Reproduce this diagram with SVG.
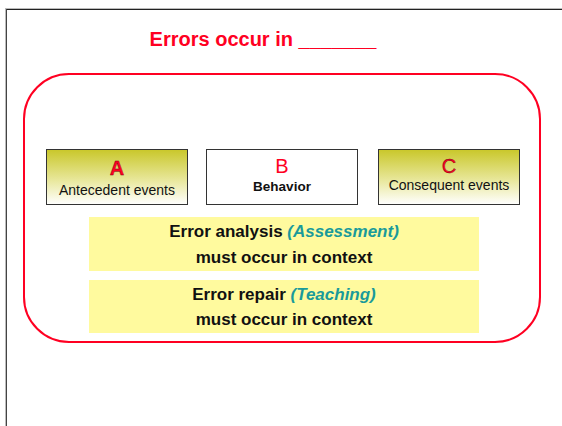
<svg xmlns="http://www.w3.org/2000/svg" width="562" height="426" viewBox="0 0 562 426">
<defs>
<linearGradient id="olive" x1="0" y1="0" x2="0" y2="1">
<stop offset="0" stop-color="#c9c72a"/>
<stop offset="0.55" stop-color="#e8e79a"/>
<stop offset="1" stop-color="#ffffff"/>
</linearGradient>
<style>
text{font-family:"Liberation Sans",Arial,sans-serif;text-anchor:middle}
.box{stroke:#333;stroke-width:1}
.bar{fill:#fffa9e}
.big{font-size:20px;fill:#ff0022}
.small{font-size:14px;fill:#111}
.line{font-size:17px;font-weight:bold;fill:#111}
.teal{fill:#1a9a9a;font-style:italic}
</style>
</defs>
<rect width="562" height="426" fill="#fff"/>
<g id="frame">
<line x1="5" y1="8.5" x2="562" y2="8.5" stroke="#bbb" stroke-width="1"/>
<line x1="5.5" y1="8" x2="5.5" y2="426" stroke="#bbb" stroke-width="1"/>
<line x1="6" y1="9.5" x2="562" y2="9.5" stroke="#222" stroke-width="1"/>
<line x1="6.5" y1="9" x2="6.5" y2="426" stroke="#444" stroke-width="1"/>
</g>
<g id="title">
<text x="263" y="46" style="font-size:20px;font-weight:bold;fill:#ff0022">Errors occur in _______</text>
</g>
<g id="container">
<rect x="24" y="74" width="516" height="268" rx="45" ry="45" fill="none" stroke="#ff0022" stroke-width="2"/>
</g>
<g id="nodeA">
<rect class="box" x="46.5" y="149.5" width="141" height="55" fill="url(#olive)"/>
<text class="big" x="117" y="175" style="font-weight:bold;stroke:#7a0010;stroke-width:0.4">A</text>
<text class="small" x="117" y="195">Antecedent events</text>
</g>
<g id="nodeB">
<rect class="box" x="206.5" y="149.5" width="151" height="55" fill="#fff"/>
<text class="big" x="282" y="173">B</text>
<text class="small" x="282" y="191" style="font-weight:bold;font-size:13.5px">Behavior</text>
</g>
<g id="nodeC">
<rect class="box" x="378.5" y="149.5" width="141" height="55" fill="url(#olive)"/>
<text class="big" x="449" y="173" style="stroke:#7a0010;stroke-width:0.4">C</text>
<text class="small" x="449" y="190">Consequent events</text>
</g>
<g id="analysis">
<rect class="bar" x="89" y="217" width="390" height="54"/>
<text class="line" x="284" y="237">Error analysis <tspan class="teal">(Assessment)</tspan></text>
<text class="line" x="284" y="263">must occur in context</text>
</g>
<g id="repair">
<rect class="bar" x="89" y="280" width="390" height="53"/>
<text class="line" x="284" y="300">Error repair <tspan class="teal">(Teaching)</tspan></text>
<text class="line" x="284" y="325">must occur in context</text>
</g>
</svg>
